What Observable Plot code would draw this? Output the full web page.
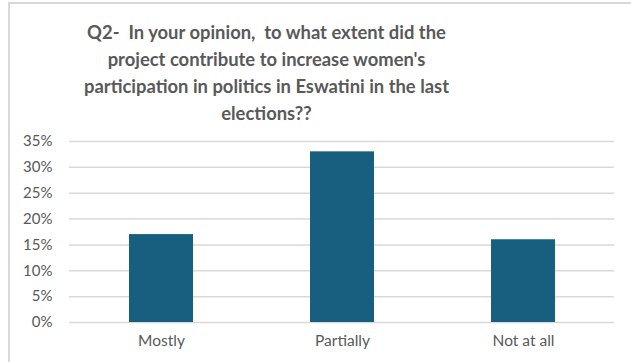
<!DOCTYPE html>
<html>
<head>
<meta charset="utf-8">
<script src="https://cdn.jsdelivr.net/npm/d3@7"></script>
<script src="https://cdn.jsdelivr.net/npm/@observablehq/plot@0.6"></script>
<style>
  html, body { margin: 0; padding: 0; background: #fff; }
  #wrap { position: relative; width: 631px; height: 362px; overflow: hidden; background: #fff; }
  #frame { position: absolute; left: 8px; top: 2px; width: 700px; height: 400px;
           border-left: 2px solid #d9d9d9; border-top: 2px solid #d9d9d9; box-sizing: border-box; }
  #title { position: absolute; left: 0; width: 533px; top: 19px; text-align: center;
           font-family: Lato, "Open Sans", sans-serif; font-weight: bold; font-size: 18.4px;
           line-height: 27px; color: #595959; }
  #chart { position: absolute; left: 0; top: 125px; }
  #chart svg text { font-family: Lato, "Open Sans", sans-serif; }
</style>
</head>
<body>
<div id="wrap">
  <div id="frame"></div>
  <div id="title">Q2-&nbsp; In your opinion,&nbsp; to what extent did the<br>project contribute to increase women's<br>participation in politics in Eswatini in the last<br>elections??</div>
  <div id="chart"></div>
</div>
<script>
const categories = ["Mostly", "Partially", "Not at all"];
const values = [0.17, 0.33, 0.16];
const yTicks = [0, 0.05, 0.10, 0.15, 0.20, 0.25, 0.30, 0.35];

const data = categories.map((c, i) => ({category: c, value: values[i]}));

const plot = Plot.plot({
  width: 631,
  height: 237,
  marginLeft: 69,
  marginRight: 17,
  marginTop: 16,
  marginBottom: 40,
  style: {background: "transparent"},
  x: {domain: categories, paddingInner: 0.647, paddingOuter: 0.3235, axis: null},
  y: {domain: [0, 0.35], axis: null},
  marks: [
    Plot.ruleY(yTicks, {stroke: "#d9d9d9", strokeWidth: 1.5}),
    Plot.barY(data, {x: "category", y: "value", fill: "#175E7F"}),
    Plot.axisY(yTicks, {tickFormat: d => Math.round(d * 100) + "%", label: null, tickSize: 0, tickPadding: 17, fontSize: 15, fill: "#595959"}),
    Plot.axisX(categories, {label: null, tickSize: 0, tickPadding: 12, fontSize: 15.5, fill: "#595959"})
  ]
});
document.getElementById("chart").appendChild(plot);
</script>
</body>
</html>
